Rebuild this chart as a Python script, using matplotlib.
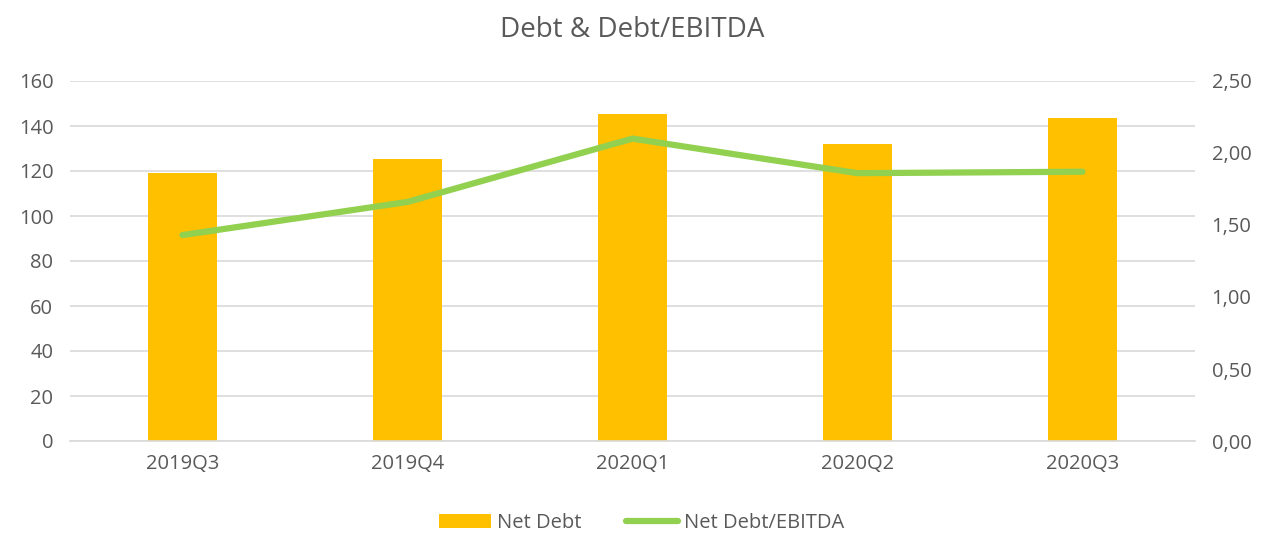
import matplotlib
matplotlib.use("Agg")
import matplotlib.pyplot as plt
import numpy as np

categories = ["2019Q3", "2019Q4", "2020Q1", "2020Q2", "2020Q3"]
net_debt = [118.9, 125.2, 145.2, 131.9, 143.6]
debt_ebitda = [1.43, 1.66, 2.10, 1.86, 1.87]
left_ticks = [0, 20, 40, 60, 80, 100, 120, 140, 160]
right_ticks = [0.0, 0.5, 1.0, 1.5, 2.0, 2.5]
right_labels = ["0,00", "0,50", "1,00", "1,50", "2,00", "2,50"]

plt.rcParams['font.family'] = ['Open Sans', 'DejaVu Sans']
txt = '#595959'

fig = plt.figure(figsize=(12.63, 5.35), dpi=100)
ax = fig.add_axes([70/1263, (535-441)/535, (1195-70)/1263, 360/535])
x = np.arange(len(categories))
ax.bar(x, net_debt, width=0.31, color='#FFC000', zorder=2, label='Net Debt')
ax.set_xlim(-0.5, len(categories)-0.5)
ax.set_ylim(0, 160)
ax.set_yticks(left_ticks)
ax.grid(axis='y', color='#D9D9D9', linewidth=1.2, zorder=0)
ax.set_axisbelow(True)
for s in ['top', 'right', 'left']:
    ax.spines[s].set_visible(False)
ax.spines['bottom'].set_color('#D9D9D9')
ax.spines['bottom'].set_linewidth(1.2)
ax.set_xticks(x)
ax.set_xticklabels(categories)
ax.tick_params(axis='both', length=0, colors=txt, labelsize=14.5)
ax.tick_params(axis='x', pad=9)
ax.tick_params(axis='y', pad=12)

ax2 = ax.twinx()
ax2.plot(x, debt_ebitda, color='#92D050', linewidth=4.5, solid_capstyle='round', label='Net Debt/EBITDA', zorder=3)
ax2.set_ylim(0, 2.5)
ax2.set_yticks(right_ticks)
ax2.set_yticklabels(right_labels)
for s in ax2.spines.values():
    s.set_visible(False)
ax2.tick_params(axis='y', length=0, colors=txt, labelsize=14.5, pad=12)

fig.suptitle("Debt & Debt/EBITDA", x=(70+1195)/2/1263, y=1-30/535, va='center', fontsize=20, color=txt)

h1, l1 = ax.get_legend_handles_labels()
h2, l2 = ax2.get_legend_handles_labels()
fig.legend(h1+h2, l1+l2, loc='center', bbox_to_anchor=(0.508, 1-523/535), ncol=2, frameon=False,
           fontsize=14.5, labelcolor=txt, handlelength=2.6, handletextpad=0.3, columnspacing=2.2)

fig.savefig("out.png", dpi=100)
